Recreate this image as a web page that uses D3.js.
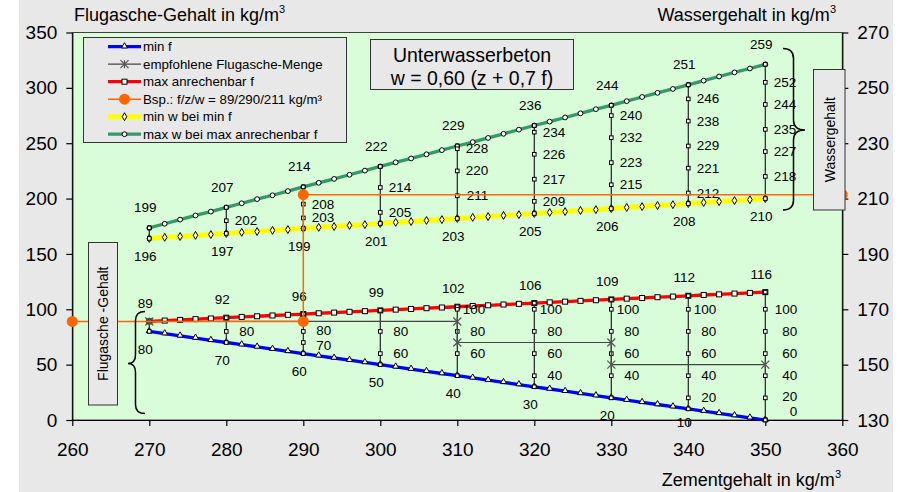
<!DOCTYPE html>
<html>
<head>
<meta charset="utf-8">
<script src="https://cdn.jsdelivr.net/npm/d3@7"></script>
<style>
  body { margin: 0; background: #ffffff; }
  svg { font-family: "Liberation Sans", Arial, sans-serif; display: block; }
</style>
</head>
<body>
<svg id="chart" width="910" height="492"></svg>
<script>
// cement content (markers every 2 kg/m3)
var zFine = [270,272,274,276,278,280,282,284,286,288,290,292,294,296,298,300,302,304,306,308,310,
             312,314,316,318,320,322,324,326,328,330,332,334,336,338,340,342,344,346,348,350];
var minF = [80,78,76,74,72,70,68,66,64,62,60,58,56,54,52,50,48,46,44,42,40,
            38,36,34,32,30,28,26,24,22,20,18,16,14,12,10,8,6,4,2,0];
var maxF = [89.1,89.8,90.4,91.1,91.7,92.4,93.1,93.7,94.4,95.0,95.7,96.4,97.0,97.7,98.3,99.0,99.7,100.3,101.0,101.6,102.3,
            103.0,103.6,104.3,104.9,105.6,106.3,106.9,107.6,108.2,108.9,109.6,110.2,110.9,111.5,112.2,112.9,113.5,114.2,114.8,115.5];
var minW = [195.6,196.0,196.3,196.7,197.0,197.4,197.8,198.1,198.5,198.8,199.2,199.6,199.9,200.3,200.6,201.0,201.4,201.7,202.1,202.4,202.8,
            203.2,203.5,203.9,204.2,204.6,205.0,205.3,205.7,206.0,206.4,206.8,207.1,207.5,207.8,208.2,208.6,208.9,209.3,209.6,210.0];
var maxW = [199.4,200.9,202.4,203.9,205.3,206.8,208.3,209.8,211.2,212.7,214.2,215.7,217.1,218.6,220.1,221.6,223.1,224.5,226.0,227.5,229.0,
            230.4,231.9,233.4,234.9,236.4,237.8,239.3,240.8,242.3,243.7,245.2,246.7,248.2,249.6,251.1,252.6,254.1,255.6,257.0,258.5];

// labelled columns
var zMain = [270,280,290,300,310,320,330,340,350];
var labMinF = [80,70,60,50,40,30,20,10];
var labMaxF = [89,92,96,99,102,106,109,112,116];
var labMinW = [196,197,199,201,203,205,206,208,210];
var labMaxW = [199,207,214,222,229,236,244,251,259];

// intermediate values on the vertical lines
var faMids = [[],[80],[80,70],[80,60],[100,80,60],[100,80,60,40],[100,80,60,40],[100,80,60,40,20],[100,80,60,40,20,0]];
var wMids = [[],[202],[208,203],[214,205],[228,220,211],[234,226,217,209],[240,232,223,215],[246,238,229,221,212],[252,244,235,227,218]];

// recommended fly ash
var recZ = [270,310,310,330,330,350];
var recF = [89,89,70,70,50,50];

// example f/z/w
var exF = 89, exZ = 290, exW = 211.4;

var xTicks = [260,270,280,290,300,310,320,330,340,350,360];
var yLTicks = [0,50,100,150,200,250,300,350];
var yRTicks = [130,150,170,190,210,230,250,270];

var svg = d3.select("#chart");
var pLeft = 72.3, pRight = 842.3, pTop = 32.5, pBottom = 420;

var x = d3.scaleLinear().domain([260, 360]).range([pLeft, pRight]);
var yL = d3.scaleLinear().domain([0, 350]).range([pBottom, pTop]);
var yR = d3.scaleLinear().domain([130, 270]).range([pBottom, pTop]);

// backgrounds
svg.append("rect").attr("x", 19).attr("y", 0).attr("width", 874).attr("height", 492).attr("fill", "#e8e8e8");
svg.append("rect").attr("x", pLeft).attr("y", pTop).attr("width", pRight - pLeft).attr("height", pBottom - pTop)
    .attr("fill", "#d8fdd8").attr("stroke", "#404040").attr("stroke-width", 1);

// axes
var axL = svg.append("g").attr("transform", "translate(" + pLeft + ",0)")
    .call(d3.axisLeft(yL).tickValues(yLTicks).tickSize(6).tickPadding(9).tickSizeOuter(0));
var axB = svg.append("g").attr("transform", "translate(0," + pBottom + ")")
    .call(d3.axisBottom(x).tickValues(xTicks).tickSize(6).tickPadding(17).tickSizeOuter(0));
var axR = svg.append("g").attr("transform", "translate(" + pRight + ",0)")
    .call(d3.axisRight(yR).tickValues(yRTicks).tickSize(6).tickPadding(9).tickSizeOuter(0));
[axL, axB, axR].forEach(function(a) {
    a.selectAll("text").attr("font-size", 19).attr("fill", "#000").attr("font-family", "Liberation Sans, Arial, sans-serif");
    a.selectAll("line, path").attr("stroke", "#000").attr("stroke-width", 1.2);
});

// axis titles
function titleText(tx, ty, anchor, str) {
    var t = svg.append("text").attr("x", tx).attr("y", ty).attr("font-size", 18).attr("text-anchor", anchor).attr("fill", "#000");
    t.append("tspan").text(str);
    t.append("tspan").attr("dy", -8).attr("font-size", 11).text("3");
}
titleText(74, 21, "start", "Flugasche-Gehalt in kg/m");
titleText(836, 21, "end", "Wassergehalt in kg/m");
titleText(841, 486, "end", "Zementgehalt in kg/m");

var plot = svg.append("g");

function pts(ys, scale) {
    return zFine.map(function(z, i) { return [x(z), scale(ys[i])]; });
}
var line = d3.line();

// main coloured lines
plot.append("path").attr("d", line(pts(minW, yR))).attr("fill", "none").attr("stroke", "#ffff00").attr("stroke-width", 5);
plot.append("path").attr("d", line(pts(maxW, yR))).attr("fill", "none").attr("stroke", "#339966").attr("stroke-width", 3.3);
plot.append("path").attr("d", line(pts(maxF, yL))).attr("fill", "none").attr("stroke", "#ff0000").attr("stroke-width", 3.3);
plot.append("path").attr("d", line(pts(minF, yL))).attr("fill", "none").attr("stroke", "#0000ff").attr("stroke-width", 3.3);

// markers
var tri = d3.symbol().type(d3.symbolTriangle).size(16);
var dia = d3.symbol().type(d3.symbolDiamond).size(18);
plot.selectAll(".mMinW").data(pts(minW, yR)).enter().append("path")
    .attr("d", dia).attr("transform", function(d) { return "translate(" + d + ")"; })
    .attr("fill", "#fff").attr("stroke", "#000").attr("stroke-width", 1);
plot.selectAll(".mMaxW").data(pts(maxW, yR)).enter().append("circle")
    .attr("cx", function(d) { return d[0]; }).attr("cy", function(d) { return d[1]; }).attr("r", 2.4)
    .attr("fill", "#fff").attr("stroke", "#000").attr("stroke-width", 1);
plot.selectAll(".mMaxF").data(pts(maxF, yL)).enter().append("rect")
    .attr("x", function(d) { return d[0] - 2.5; }).attr("y", function(d) { return d[1] - 2.5; })
    .attr("width", 5).attr("height", 5)
    .attr("fill", "#fff").attr("stroke", "#000").attr("stroke-width", 1);
plot.selectAll(".mMinF").data(pts(minF, yL)).enter().append("path")
    .attr("d", tri).attr("transform", function(d) { return "translate(" + d[0] + "," + (d[1] - 0.5) + ")"; })
    .attr("fill", "#fff").attr("stroke", "#000").attr("stroke-width", 1);

// vertical lines per cement content
zMain.forEach(function(z, k) {
    var i = zFine.indexOf(z);
    var cx = x(z);
    var faVals = [maxF[i]].concat(faMids[k]).concat([minF[i]]);
    var wVals = [maxW[i]].concat(wMids[k]).concat([minW[i]]);
    var faPts = faVals.map(function(v) { return [cx, yL(v)]; });
    var wPts = wVals.map(function(v) { return [cx, yR(v)]; });
    [faPts, wPts].forEach(function(p) {
        plot.append("path").attr("d", line(p)).attr("fill", "none").attr("stroke", "#222").attr("stroke-width", 1.2);
        plot.selectAll(null).data(p).enter().append("rect")
            .attr("x", function(d) { return d[0] - 1.8; }).attr("y", function(d) { return d[1] - 1.8; })
            .attr("width", 3.6).attr("height", 3.6)
            .attr("fill", "#fff").attr("stroke", "#000").attr("stroke-width", 1);
    });
    // labels on the vertical lines (kept apart and above the axis)
    var ys = faMids[k].map(function(v) { return yL(v); });
    for (var a = 1; a < ys.length; a++) ys[a] = Math.max(ys[a], ys[a - 1] + 14);
    if (ys.length) ys[ys.length - 1] = Math.min(ys[ys.length - 1], pBottom - 9);
    for (var b = ys.length - 2; b >= 0; b--) ys[b] = Math.min(ys[b], ys[b + 1] - 15);
    faMids[k].forEach(function(v, j) {
        plot.append("text").attr("x", cx + (z === 350 ? 32 : 28)).attr("y", ys[j] + 4.5)
            .attr("text-anchor", "end").attr("font-size", 13.5).text(v);
    });
    wMids[k].forEach(function(v) {
        plot.append("text").attr("x", cx + 31).attr("y", yR(v) + 4.5)
            .attr("text-anchor", "end").attr("font-size", 13.5).text(v);
    });
});

// recommended fly ash line
var recPts = recZ.map(function(z, i) { return [x(z), yL(recF[i])]; });
plot.append("path").attr("d", line(recPts)).attr("fill", "none").attr("stroke", "#444").attr("stroke-width", 1.2);
function star(g, px, py, s) {
    g.append("path").attr("d", "M" + (px - s) + "," + (py - s) + "L" + (px + s) + "," + (py + s) +
        "M" + (px - s) + "," + (py + s) + "L" + (px + s) + "," + (py - s) +
        "M" + px + "," + (py - s) + "L" + px + "," + (py + s))
        .attr("stroke", "#555").attr("stroke-width", 1.2).attr("fill", "none");
}
recPts.forEach(function(p) { star(plot, p[0], p[1], 4); });

// example f/z/w
var exPts = [[x(260), yL(exF)], [x(exZ), yL(exF)], [x(exZ), yR(exW)], [x(360), yR(exW)]];
svg.append("path").attr("d", line(exPts)).attr("fill", "none").attr("stroke", "#ff6600").attr("stroke-width", 1.5);
svg.selectAll(".ex").data(exPts).enter().append("circle")
    .attr("cx", function(d) { return d[0]; }).attr("cy", function(d) { return d[1]; }).attr("r", 5.5)
    .attr("fill", "#ff6600");

// value labels at main points
function mainLabels(vals, series, scale, dy) {
    vals.forEach(function(v, k) {
        var i = zFine.indexOf(zMain[k]);
        var ly = Math.min(scale(series[i]) + dy, pBottom + 2);
        plot.append("text").attr("x", x(zMain[k]) - 4).attr("y", ly + 4.5)
            .attr("text-anchor", "middle").attr("font-size", 13.5).text(v);
    });
}
mainLabels(labMaxF, maxF, yL, -18);
mainLabels(labMinF, minF, yL, 18);
mainLabels(labMaxW, maxW, yR, -20);
mainLabels(labMinW, minW, yR, 18);

// braces
function brace(x0, xv, xt, y0, yt, y1, r) {
    return "M" + x0 + "," + y0 + "Q" + xv + "," + y0 + " " + xv + "," + (y0 + r) +
        "L" + xv + "," + (yt - r) + "Q" + xv + "," + yt + " " + xt + "," + yt +
        "Q" + xv + "," + yt + " " + xv + "," + (yt + r) +
        "L" + xv + "," + (y1 - r) + "Q" + xv + "," + y1 + " " + x0 + "," + y1;
}
svg.append("path").attr("d", brace(783, 793.5, 805, 48.5, 130, 210, 10))
    .attr("fill", "none").attr("stroke", "#000").attr("stroke-width", 1.5);
svg.append("path").attr("d", brace(145, 135.5, 128, 311.5, 363.5, 413.5, 9))
    .attr("fill", "none").attr("stroke", "#000").attr("stroke-width", 1.5);

// side boxes
svg.append("rect").attr("x", 813.5).attr("y", 69.5).attr("width", 31.5).attr("height", 140.5)
    .attr("fill", "#e8e8e8").attr("stroke", "#333");
svg.append("text").attr("transform", "translate(835,139.7) rotate(-90)").attr("text-anchor", "middle")
    .attr("font-size", 14).text("Wassergehalt");
svg.append("rect").attr("x", 88.5).attr("y", 242.5).attr("width", 29).attr("height", 162.5)
    .attr("fill", "#e8e8e8").attr("stroke", "#333");
svg.append("text").attr("transform", "translate(108,323.7) rotate(-90)").attr("text-anchor", "middle")
    .attr("font-size", 14).text("Flugasche -Gehalt");

// title box
svg.append("rect").attr("x", 370.5).attr("y", 39.5).attr("width", 203).attr("height", 50)
    .attr("fill", "#e8e8e8").attr("stroke", "#333");
svg.append("text").attr("x", 472).attr("y", 62).attr("text-anchor", "middle").attr("font-size", 19.5).text("Unterwasserbeton");
svg.append("text").attr("x", 472).attr("y", 85).attr("text-anchor", "middle").attr("font-size", 19.5).text("w = 0,60 (z + 0,7 f)");

// legend
var legendItems = [
    {name: "min f", color: "#0000ff", width: 3.3, mark: "tri"},
    {name: "empfohlene Flugasche-Menge", color: "#444", width: 1.2, mark: "star"},
    {name: "max anrechenbar f", color: "#ff0000", width: 3.3, mark: "sq"},
    {name: "Bsp.: f/z/w = 89/290/211 kg/m³", color: "#ff6600", width: 1.5, mark: "dot"},
    {name: "min w bei min f", color: "#ffff00", width: 5, mark: "dia"},
    {name: "max w bei max anrechenbar f", color: "#339966", width: 3.3, mark: "circ"}
];
var lg = svg.append("g");
lg.append("rect").attr("x", 83.5).attr("y", 37.5).attr("width", 263).attr("height", 105)
    .attr("fill", "#e8e8e8").attr("stroke", "#333");
legendItems.forEach(function(d, i) {
    var ly = 46.7 + i * 17.5;
    lg.append("line").attr("x1", 108).attr("x2", 141).attr("y1", ly).attr("y2", ly)
        .attr("stroke", d.color).attr("stroke-width", d.width);
    var mx = 124.5;
    if (d.mark === "tri") lg.append("path").attr("d", tri).attr("transform", "translate(" + mx + "," + (ly - 0.5) + ")")
        .attr("fill", "#fff").attr("stroke", "#000");
    if (d.mark === "dia") lg.append("path").attr("d", dia).attr("transform", "translate(" + mx + "," + ly + ")")
        .attr("fill", "#fff").attr("stroke", "#000");
    if (d.mark === "sq") lg.append("rect").attr("x", mx - 2.5).attr("y", ly - 2.5).attr("width", 5).attr("height", 5)
        .attr("fill", "#fff").attr("stroke", "#000");
    if (d.mark === "circ") lg.append("circle").attr("cx", mx).attr("cy", ly).attr("r", 2.4)
        .attr("fill", "#fff").attr("stroke", "#000");
    if (d.mark === "dot") lg.append("circle").attr("cx", mx).attr("cy", ly).attr("r", 5.5).attr("fill", "#ff6600");
    if (d.mark === "star") star(lg, mx, ly, 4);
    lg.append("text").attr("x", 143).attr("y", ly + 4.5).attr("font-size", 13.3).text(d.name);
});
</script>
</body>
</html>
